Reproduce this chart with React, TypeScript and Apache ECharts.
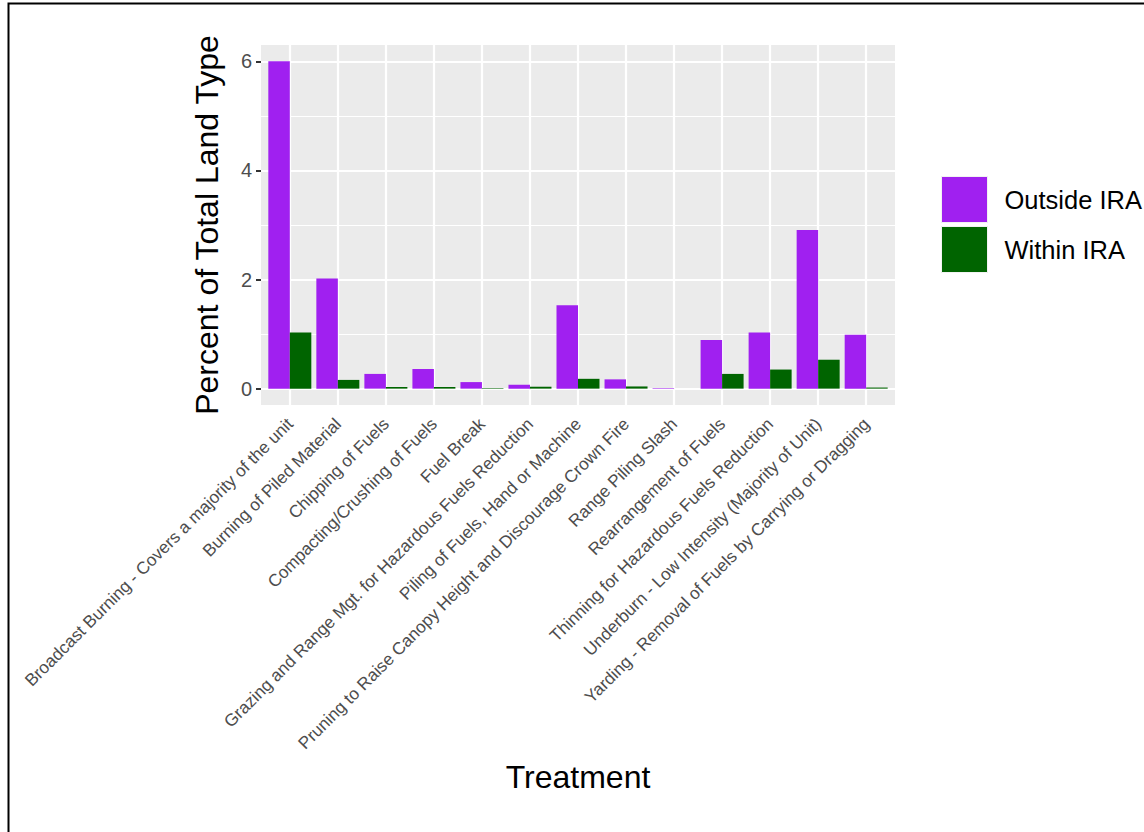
import React, { useEffect, useRef } from "react";
import * as echarts from "echarts";

const categories = [
  "Broadcast Burning - Covers a majority of the unit",
  "Burning of Piled Material",
  "Chipping of Fuels",
  "Compacting/Crushing of Fuels",
  "Fuel Break",
  "Grazing and Range Mgt. for Hazardous Fuels Reduction",
  "Piling of Fuels, Hand or Machine",
  "Pruning to Raise Canopy Height and Discourage Crown Fire",
  "Range Piling Slash",
  "Rearrangement of Fuels",
  "Thinning for Hazardous Fuels Reduction",
  "Underburn - Low Intensity (Majority of Unit)",
  "Yarding - Removal of Fuels by Carrying or Dragging",
];
const outsideIRA = [6.0, 2.02, 0.27, 0.36, 0.12, 0.07, 1.53, 0.17, 0.01, 0.89, 1.03, 2.91, 0.99];
const withinIRA = [1.03, 0.16, 0.03, 0.03, 0.01, 0.035, 0.18, 0.04, 0, 0.27, 0.35, 0.53, 0.02];
const seriesNames = ["Outside IRA", "Within IRA"];
const seriesColors = ["#A020F0", "#006400"];
const yMajorTicks = [0, 2, 4, 6];
const yMinorTicks = [1, 3, 5];

const FONT = "'Liberation Sans', Arial, Helvetica, sans-serif";

export default function App() {
  const ref = useRef<HTMLDivElement>(null);
  useEffect(() => {
    if (!ref.current) return;
    const chart = echarts.init(ref.current, undefined, { renderer: "svg" });
    const positions = categories.map((_, i) => i + 1);
    const gridLines: any[] = [];
    yMajorTicks.forEach((v) => gridLines.push({ yAxis: v, lineStyle: { width: 2.2 } }));
    yMinorTicks.forEach((v) => gridLines.push({ yAxis: v, lineStyle: { width: 1.1 } }));
    positions.forEach((p) => gridLines.push({ xAxis: p, lineStyle: { width: 2.2 } }));

    chart.setOption({
      animation: false,
      backgroundColor: "#FFFFFF",
      textStyle: { fontFamily: FONT },
      graphic: [
        {
          type: "rect",
          left: 6,
          top: 1,
          shape: { width: 1300, height: 1000 },
          style: { fill: "none", stroke: "#000000", lineWidth: 2 },
          silent: true,
        },
      ],
      grid: {
        left: 261,
        top: 45,
        width: 634,
        height: 360,
        show: true,
        backgroundColor: "#EBEBEB",
        borderWidth: 0,
      },
      legend: {
        orient: "vertical",
        left: 941,
        top: 176,
        itemWidth: 46,
        itemHeight: 46,
        itemGap: 3,
        icon: "rect",
        padding: 0,
        data: seriesNames,
        textStyle: { fontSize: 25.5, color: "#000000", fontFamily: FONT, padding: [0, 0, 0, 12] },
        itemStyle: { borderColor: "#F2F2F2", borderWidth: 1 },
      },
      xAxis: {
        type: "value",
        min: 0.4,
        max: 13.6,
        name: "Treatment",
        nameLocation: "middle",
        nameGap: 356,
        nameTextStyle: { fontSize: 32, color: "#000000", fontFamily: FONT },
        axisLine: { show: false },
        splitLine: { show: false },
        axisTick: {
          show: true,
          customValues: positions,
          length: 5,
          lineStyle: { color: "#333333", width: 2 },
        },
        axisLabel: {
          customValues: positions,
          rotate: 45,
          margin: 16,
          verticalAlign: "middle",
          padding: [6, 0, 0, 0],
          fontSize: 17.2,
          color: "#4D4D4D",
          fontFamily: FONT,
          formatter: (v: number) => categories[Math.round(v) - 1] ?? "",
        },
      },
      yAxis: {
        type: "value",
        min: -0.3,
        max: 6.3,
        name: "Percent of Total Land Type",
        nameLocation: "middle",
        nameRotate: 90,
        nameGap: 38,
        nameTextStyle: { fontSize: 32, color: "#000000", fontFamily: FONT },
        axisLine: { show: false },
        splitLine: { show: false },
        axisTick: {
          show: true,
          customValues: yMajorTicks,
          length: 5,
          lineStyle: { color: "#333333", width: 2 },
        },
        axisLabel: {
          customValues: yMajorTicks,
          margin: 9,
          fontSize: 20,
          color: "#4D4D4D",
          fontFamily: FONT,
        },
      },
      series: [
        {
          name: "grid",
          type: "line",
          data: [],
          z: 1,
          silent: true,
          markLine: {
            z: 1,
            silent: true,
            symbol: ["none", "none"],
            label: { show: false },
            lineStyle: { color: "#FFFFFF", type: "solid", width: 2 },
            data: gridLines,
          },
        },
        {
          name: seriesNames[0],
          type: "bar",
          z: 3,
          data: positions.map((p, i) => [p, outsideIRA[i]]),
          barWidth: 21.5,
          barGap: "0%",
          itemStyle: { color: seriesColors[0] },
        },
        {
          name: seriesNames[1],
          type: "bar",
          z: 3,
          data: positions.map((p, i) => [p, withinIRA[i]]),
          barWidth: 21.5,
          barGap: "0%",
          itemStyle: { color: seriesColors[1] },
        },
      ],
    });
    return () => chart.dispose();
  }, []);
  return (
    <div
      ref={ref}
      style={{ position: "fixed", left: 0, top: 0, width: 1144, height: 832 }}
    />
  );
}
